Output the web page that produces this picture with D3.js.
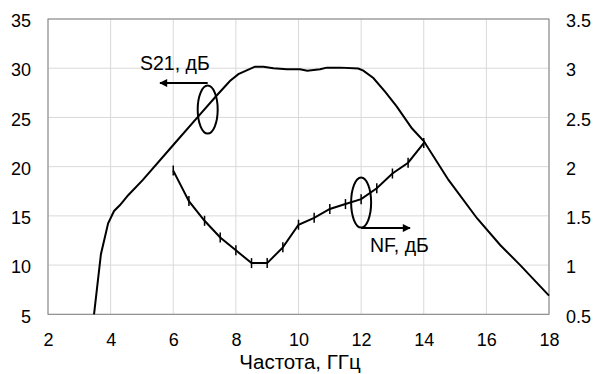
<!DOCTYPE html>
<html><head><meta charset="utf-8">
<script src="https://cdn.jsdelivr.net/npm/d3@7"></script>
<style>body{margin:0;background:#fff}svg{display:block}text{font-family:"Liberation Sans",Arial,sans-serif;fill:#000}</style>
</head><body><svg id="c" width="595" height="374"></svg>
<script>
const xTicks = [2,4,6,8,10,12,14,16,18];
const yLeftTicks = [5,10,15,20,25,30,35];
const yRightTicks = ["0.5","1","1.5","2","2.5","3","3.5"];
const s21Freq = [3.47,3.69,3.92,4.11,4.3,4.56,5.03,6,6.8,7.38,7.81,8.08,8.61,8.88,9.2,9.63,10.05,10.28,10.69,10.9,11.33,11.91,12.07,12.39,12.77,13.14,13.62,14.0,14.79,15.7,16.44,17.08,18];
const s21Gain = [5,11.1,14.25,15.5,16.1,17.1,18.65,22.2,25.1,27.2,28.7,29.4,30.16,30.16,30.0,29.9,29.9,29.75,29.9,30.06,30.06,29.96,29.75,29.0,27.6,26.1,23.9,22.6,18.65,14.76,12.04,10.0,6.9];
const nfFreq = [6,6.5,7,7.5,8,8.5,9,9.5,10,10.5,11,11.5,12,12.5,13,13.5,14];
const nfValue = [1.96,1.65,1.45,1.28,1.15,1.02,1.02,1.18,1.41,1.48,1.57,1.62,1.67,1.78,1.93,2.04,2.24];
const xTitle = "Частота, ГГц";
const s21Label = "S21, дБ";
const nfLabel = "NF, дБ";

const svg = d3.select("#c");
const L=48, R=549, T=19, B=314.3;
const x = d3.scaleLinear().domain([2,18]).range([L,R]);
const yL = d3.scaleLinear().domain([5,35]).range([B,T]);
const yR = d3.scaleLinear().domain([0.5,3.5]).range([B,T]);
const fs = 18;
const font = "Liberation Sans, Arial, sans-serif";

// grid
const g = svg.append("g");
xTicks.forEach(t=>g.append("line").attr("x1",x(t)).attr("x2",x(t)).attr("y1",T).attr("y2",B).attr("stroke","#d9d9d9").attr("stroke-width",1));
yLeftTicks.forEach(t=>g.append("line").attr("x1",L).attr("x2",R).attr("y1",yL(t)).attr("y2",yL(t)).attr("stroke","#d9d9d9").attr("stroke-width",1));
// border
svg.append("rect").attr("x",L).attr("y",T).attr("width",R-L).attr("height",B-T).attr("fill","none").attr("stroke","#808080").attr("stroke-width",1);

function styleAxis(a){
  a.select(".domain").remove();
  a.selectAll("text").style("font-size",fs+"px").style("font-family",font).attr("fill","#000");
}
const ax = svg.append("g").attr("transform",`translate(0,${B})`).call(d3.axisBottom(x).tickValues(xTicks).tickSize(0).tickPadding(19).tickFormat(d3.format("d")));
styleAxis(ax);
const ayl = svg.append("g").attr("transform",`translate(31,2)`).call(d3.axisLeft(yL).tickValues(yLeftTicks).tickSize(0).tickPadding(0));
styleAxis(ayl);
const ayr = svg.append("g").attr("transform",`translate(566,2)`).call(d3.axisRight(yR).tickValues(yRightTicks.map(Number)).tickSize(0).tickPadding(0).tickFormat((d,i)=>yRightTicks[i]));
styleAxis(ayr);

svg.append("text").attr("x",300).attr("y",369).attr("text-anchor","middle").style("font-size","20.5px").text(xTitle);

// S21 line
const s21 = s21Freq.map((f,i)=>[f,s21Gain[i]]);
svg.append("path").datum(s21).attr("fill","none").attr("stroke","#000").attr("stroke-width",2)
  .attr("d",d3.line().x(d=>x(d[0])).y(d=>yL(d[1])));

// NF line
const nf = nfFreq.map((f,i)=>[f,nfValue[i]]);
svg.append("path").datum(nf).attr("fill","none").attr("stroke","#000").attr("stroke-width",2)
  .attr("d",d3.line().x(d=>x(d[0])).y(d=>yR(d[1])));
svg.selectAll(".mk").data(nf).enter().append("line")
  .attr("x1",d=>x(d[0])).attr("x2",d=>x(d[0])).attr("y1",d=>yR(d[1])-5).attr("y2",d=>yR(d[1])+5)
  .attr("stroke","#000").attr("stroke-width",1.5);

// annotations
svg.append("defs").append("marker").attr("id","ah").attr("viewBox","0 0 10 10").attr("refX",9).attr("refY",5)
  .attr("markerWidth",10).attr("markerHeight",8).attr("markerUnits","userSpaceOnUse").attr("orient","auto")
  .append("path").attr("d","M0,0L10,5L0,10z").attr("fill","#000");

const e1x = x(7.1), e1y = yL(25.8);
svg.append("ellipse").attr("cx",e1x).attr("cy",e1y).attr("rx",10).attr("ry",24).attr("fill","none").attr("stroke","#000").attr("stroke-width",2);
svg.append("line").attr("x1",e1x).attr("y1",e1y-26.5).attr("x2",160).attr("y2",e1y-26.5).attr("stroke","#000").attr("stroke-width",2).attr("marker-end","url(#ah)");
svg.append("text").attr("x",140).attr("y",70).style("font-size","19.5px").text(s21Label);

const e2x = x(12), e2y = yR(1.635);
svg.append("ellipse").attr("cx",e2x).attr("cy",e2y).attr("rx",10).attr("ry",25).attr("fill","none").attr("stroke","#000").attr("stroke-width",2);
svg.append("line").attr("x1",e2x).attr("y1",e2y+25.5).attr("x2",410).attr("y2",e2y+25.5).attr("stroke","#000").attr("stroke-width",2).attr("marker-end","url(#ah)");
svg.append("text").attr("x",370).attr("y",251.5).style("font-size","19.5px").text(nfLabel);
</script></body></html>
